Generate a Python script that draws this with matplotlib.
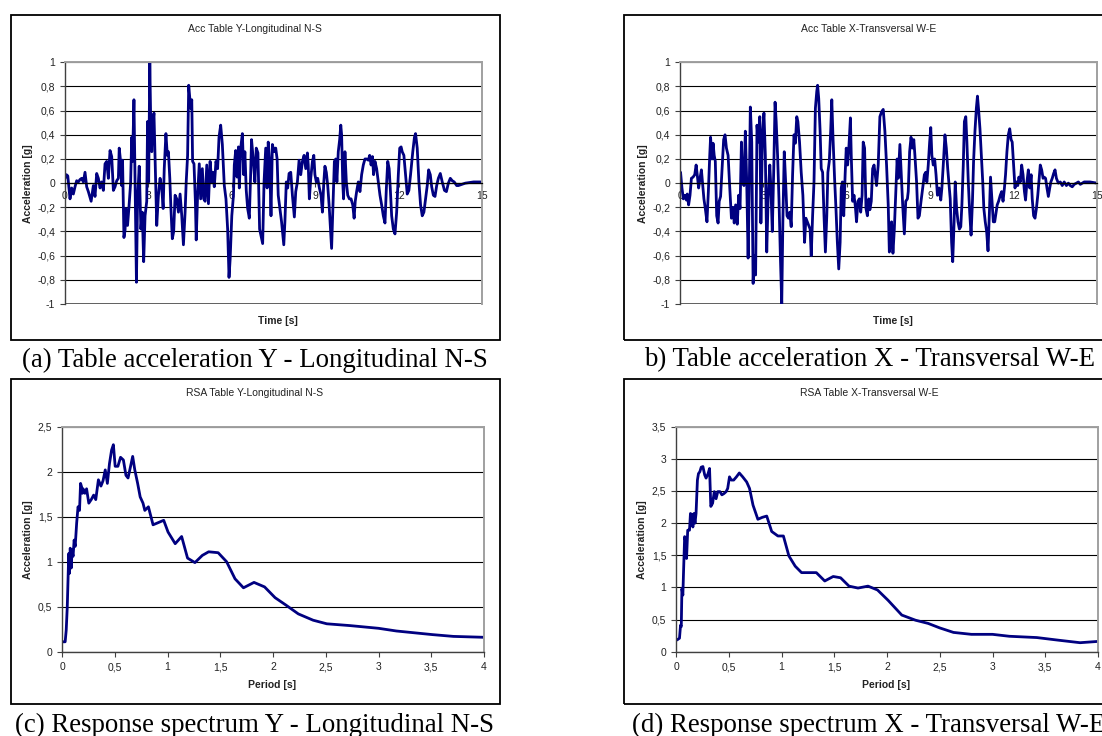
import matplotlib
matplotlib.use("Agg")
import matplotlib.pyplot as plt
from matplotlib.patches import Rectangle
from matplotlib.ticker import FuncFormatter, MultipleLocator

W, H = 1102, 736

# Table acceleration records, (time [s], acceleration [g])
acc_y_rec = [
    (0.00, 0.04), (0.05, 0.07), (0.10, 0.06), (0.18, -0.13), (0.24, -0.04), (0.30, -0.09),
    (0.36, -0.03), (0.42, 0.02), (0.48, 0.01), (0.54, 0.03), (0.60, 0.04), (0.66, 0.01),
    (0.72, 0.09), (0.78, -0.03), (0.84, -0.07), (0.94, -0.15), (1.02, -0.02), (1.08, -0.11),
    (1.14, 0.08), (1.20, 0.04), (1.26, -0.04), (1.32, 0.01), (1.38, -0.06), (1.44, 0.16),
    (1.50, 0.18), (1.56, 0.04), (1.62, 0.27), (1.68, 0.22), (1.74, -0.06), (1.80, -0.03),
    (1.86, 0.02), (1.92, 0.04), (1.95, 0.29), (2.00, 0.18), (2.04, -0.02), (2.07, 0.19),
    (2.12, -0.45), (2.16, -0.39), (2.19, -0.21), (2.25, -0.35), (2.30, -0.20), (2.36, 0.00),
    (2.40, 0.38), (2.43, 0.18), (2.48, 0.69), (2.52, 0.01), (2.57, -0.82), (2.61, -0.13),
    (2.67, 0.14), (2.73, -0.38), (2.78, -0.24), (2.83, -0.65), (2.88, -0.27), (2.94, -0.15),
    (2.97, 0.51), (3.01, 0.01), (3.05, 1.00), (3.08, 0.56), (3.12, 0.26), (3.15, 0.47),
    (3.20, 0.58), (3.24, 0.20), (3.30, -0.35), (3.36, -0.10), (3.42, 0.04), (3.48, -0.04),
    (3.53, -0.21), (3.57, 0.12), (3.63, 0.41), (3.68, 0.23), (3.72, 0.26), (3.77, 0.04),
    (3.81, -0.21), (3.86, -0.46), (3.91, -0.40), (3.96, -0.10), (4.02, -0.13), (4.08, -0.24),
    (4.14, -0.09), (4.20, -0.27), (4.26, -0.51), (4.32, -0.24), (4.36, 0.01), (4.41, 0.23),
    (4.45, 0.81), (4.48, 0.73), (4.52, 0.62), (4.56, 0.69), (4.59, 0.18), (4.64, 0.16),
    (4.69, -0.15), (4.72, -0.47), (4.77, -0.10), (4.83, 0.16), (4.88, -0.13), (4.94, 0.12),
    (4.99, -0.13), (5.04, -0.15), (5.10, 0.15), (5.16, -0.17), (5.22, 0.18), (5.28, 0.01),
    (5.32, 0.09), (5.37, -0.03), (5.43, 0.18), (5.49, 0.12), (5.54, 0.38), (5.60, 0.48),
    (5.66, 0.32), (5.73, -0.02), (5.79, -0.13), (5.85, -0.38), (5.90, -0.78), (5.94, -0.63),
    (6.00, -0.27), (6.06, -0.10), (6.09, 0.15), (6.14, 0.27), (6.19, 0.05), (6.24, 0.30),
    (6.27, -0.04), (6.32, 0.29), (6.38, 0.41), (6.43, 0.07), (6.47, 0.26), (6.52, -0.06),
    (6.57, -0.21), (6.63, -0.29), (6.68, 0.09), (6.71, 0.36), (6.77, 0.20), (6.83, 0.01),
    (6.88, 0.29), (6.94, 0.25), (7.00, -0.38), (7.11, -0.50), (7.16, 0.01), (7.22, 0.29),
    (7.27, -0.04), (7.31, 0.34), (7.36, 0.18), (7.41, -0.27), (7.46, 0.32), (7.52, 0.26),
    (7.58, 0.29), (7.63, 0.20), (7.67, -0.10), (7.73, -0.21), (7.79, -0.32), (7.87, -0.51),
    (7.91, -0.32), (7.96, 0.01), (8.01, -0.04), (8.06, 0.08), (8.12, 0.09), (8.18, -0.10),
    (8.25, -0.28), (8.30, -0.07), (8.36, 0.01), (8.42, 0.19), (8.48, 0.07), (8.54, 0.18),
    (8.60, 0.23), (8.66, 0.12), (8.72, 0.25), (8.75, 0.15), (8.79, -0.13), (8.84, 0.04),
    (8.90, 0.18), (8.95, 0.23), (8.99, 0.07), (9.04, 0.01), (9.09, 0.04), (9.15, -0.04),
    (9.21, -0.10), (9.26, -0.24), (9.31, 0.01), (9.35, 0.14), (9.40, 0.09), (9.45, -0.02),
    (9.50, -0.18), (9.55, -0.38), (9.59, -0.54), (9.64, -0.18), (9.69, 0.18), (9.74, 0.20),
    (9.78, 0.01), (9.83, 0.26), (9.88, 0.36), (9.92, 0.48), (9.95, 0.40), (9.99, 0.01),
    (10.02, -0.13), (10.07, 0.26), (10.12, 0.01), (10.17, -0.10), (10.23, -0.13), (10.29, -0.13),
    (10.35, -0.18), (10.40, -0.29), (10.44, -0.15), (10.49, -0.07), (10.55, 0.01), (10.61, -0.07),
    (10.67, 0.07), (10.73, 0.15), (10.79, 0.20), (10.85, 0.20), (10.91, 0.19), (10.96, 0.23),
    (11.01, 0.15), (11.06, 0.22), (11.10, 0.07), (11.15, 0.18), (11.21, 0.12), (11.27, 0.01),
    (11.33, -0.10), (11.39, -0.18), (11.45, -0.27), (11.51, -0.33), (11.56, -0.04), (11.61, 0.18),
    (11.66, 0.12), (11.70, -0.04), (11.75, -0.27), (11.81, -0.38), (11.87, -0.42), (11.93, -0.24),
    (11.99, 0.07), (12.04, 0.29), (12.09, 0.30), (12.13, 0.26), (12.19, 0.23), (12.25, 0.07),
    (12.31, -0.09), (12.37, -0.06), (12.43, 0.07), (12.51, 0.26), (12.57, 0.38), (12.61, 0.41),
    (12.67, 0.29), (12.73, 0.01), (12.79, -0.18), (12.85, -0.27), (12.91, -0.24), (12.97, -0.13),
    (13.03, -0.02), (13.08, 0.11), (13.14, 0.07), (13.19, -0.03), (13.25, -0.10), (13.31, -0.11),
    (13.37, -0.02), (13.43, 0.04), (13.50, 0.08), (13.57, 0.01), (13.65, -0.06), (13.72, -0.07),
    (13.79, 0.00), (13.86, 0.04), (13.93, 0.02), (14.00, 0.01), (14.09, -0.02), (14.15, -0.02),
    (14.40, 0.00), (14.70, 0.01), (15.00, 0.01),
]

acc_x_rec = [
    (0.00, 0.01), (0.02, 0.09), (0.07, -0.04), (0.12, -0.13), (0.17, -0.10), (0.23, -0.14),
    (0.26, -0.09), (0.31, -0.18), (0.36, -0.10), (0.41, 0.04), (0.47, 0.05), (0.53, 0.07),
    (0.58, 0.15), (0.62, 0.07), (0.67, -0.04), (0.72, 0.04), (0.77, 0.11), (0.82, -0.02),
    (0.86, -0.13), (0.91, -0.21), (0.97, -0.32), (1.02, -0.07), (1.07, 0.23), (1.10, 0.38),
    (1.15, 0.20), (1.19, 0.33), (1.23, 0.23), (1.27, 0.18), (1.32, -0.27), (1.37, -0.33),
    (1.41, -0.15), (1.46, -0.11), (1.52, 0.15), (1.57, 0.36), (1.62, 0.40), (1.67, 0.29),
    (1.73, 0.23), (1.79, -0.04), (1.85, -0.29), (1.91, -0.20), (1.95, -0.33), (2.00, -0.18),
    (2.06, -0.34), (2.11, -0.10), (2.16, -0.21), (2.21, 0.34), (2.25, 0.01), (2.30, -0.02),
    (2.35, 0.43), (2.40, 0.01), (2.45, -0.62), (2.49, -0.07), (2.53, 0.63), (2.58, 0.34),
    (2.63, -0.83), (2.67, -0.60), (2.72, -0.76), (2.77, 0.48), (2.82, 0.34), (2.87, 0.55),
    (2.91, -0.33), (2.97, 0.43), (3.02, 0.58), (3.07, 0.23), (3.12, -0.57), (3.17, -0.13),
    (3.23, 0.15), (3.27, -0.04), (3.32, -0.40), (3.37, 0.09), (3.42, 0.67), (3.46, 0.51),
    (3.51, 0.23), (3.56, -0.13), (3.61, -0.60), (3.66, -1.00), (3.70, -0.32), (3.75, 0.26),
    (3.80, 0.01), (3.85, -0.27), (3.90, -0.29), (3.95, -0.24), (4.00, -0.36), (4.05, 0.07),
    (4.10, 0.40), (4.15, 0.33), (4.20, 0.55), (4.24, 0.51), (4.30, 0.34), (4.36, 0.09),
    (4.42, -0.10), (4.48, -0.49), (4.53, -0.29), (4.58, -0.32), (4.63, -0.35), (4.68, -0.38),
    (4.72, -0.60), (4.77, -0.27), (4.82, 0.01), (4.87, 0.62), (4.92, 0.76), (4.95, 0.81),
    (4.99, 0.70), (5.04, 0.43), (5.08, 0.12), (5.13, 0.09), (5.18, -0.27), (5.23, -0.57),
    (5.28, -0.27), (5.32, 0.09), (5.37, 0.18), (5.42, 0.43), (5.46, 0.69), (5.50, 0.40),
    (5.56, 0.04), (5.61, -0.21), (5.66, -0.49), (5.71, -0.71), (5.76, -0.49), (5.80, -0.04),
    (5.84, 0.01), (5.89, -0.27), (5.94, 0.07), (5.98, 0.29), (6.03, 0.15), (6.08, 0.32),
    (6.13, 0.54), (6.16, 0.23), (6.21, -0.15), (6.26, -0.10), (6.31, -0.20), (6.35, -0.32),
    (6.40, -0.15), (6.45, -0.13), (6.50, -0.24), (6.55, -0.10), (6.59, 0.34), (6.64, 0.29),
    (6.69, -0.21), (6.74, -0.27), (6.79, -0.13), (6.83, -0.22), (6.88, -0.15), (6.93, 0.12),
    (6.98, 0.15), (7.07, -0.02), (7.13, 0.15), (7.19, 0.55), (7.25, 0.59), (7.31, 0.61),
    (7.37, 0.43), (7.43, 0.15), (7.49, -0.18), (7.53, -0.57), (7.58, -0.49), (7.61, -0.32),
    (7.66, -0.58), (7.71, -0.38), (7.76, -0.10), (7.81, 0.20), (7.85, 0.04), (7.91, 0.32),
    (7.96, 0.07), (8.01, -0.18), (8.07, -0.42), (8.12, -0.15), (8.18, -0.13), (8.21, -0.07),
    (8.26, 0.26), (8.31, 0.38), (8.36, 0.29), (8.41, 0.36), (8.45, 0.23), (8.51, 0.01),
    (8.56, -0.29), (8.61, -0.27), (8.67, -0.15), (8.73, -0.04), (8.79, 0.07), (8.84, 0.09),
    (8.88, 0.01), (8.93, 0.15), (8.98, 0.34), (9.02, 0.46), (9.06, 0.23), (9.11, 0.15),
    (9.16, 0.20), (9.21, 0.07), (9.26, -0.10), (9.32, -0.04), (9.38, -0.14), (9.42, -0.04),
    (9.47, 0.15), (9.53, 0.40), (9.58, 0.29), (9.63, 0.12), (9.68, -0.02), (9.72, -0.13),
    (9.77, -0.49), (9.81, -0.65), (9.86, -0.32), (9.90, 0.01), (9.95, -0.21), (10.00, -0.32),
    (10.05, -0.38), (10.10, -0.36), (10.14, -0.18), (10.19, 0.15), (10.23, 0.51), (10.28, 0.55),
    (10.32, 0.34), (10.37, 0.01), (10.42, -0.24), (10.47, -0.43), (10.52, -0.15), (10.56, 0.18),
    (10.61, 0.43), (10.66, 0.62), (10.70, 0.72), (10.74, 0.61), (10.79, 0.45), (10.84, 0.23),
    (10.89, 0.01), (10.93, -0.21), (10.98, -0.32), (11.03, -0.40), (11.08, -0.56), (11.13, -0.24),
    (11.17, 0.05), (11.22, -0.13), (11.27, -0.32), (11.32, -0.32), (11.37, -0.24), (11.41, -0.18),
    (11.46, -0.15), (11.52, -0.10), (11.57, -0.07), (11.62, -0.15), (11.67, -0.04), (11.71, 0.07),
    (11.76, 0.26), (11.81, 0.40), (11.86, 0.45), (11.91, 0.36), (11.95, 0.34), (12.00, 0.15),
    (12.05, -0.04), (12.10, 0.01), (12.15, -0.02), (12.19, 0.05), (12.24, 0.01), (12.29, 0.15),
    (12.34, 0.07), (12.39, -0.07), (12.43, -0.14), (12.48, 0.01), (12.53, 0.11), (12.58, -0.04),
    (12.63, 0.07), (12.67, -0.13), (12.72, -0.27), (12.77, -0.29), (12.82, -0.21), (12.87, -0.10),
    (12.91, 0.01), (12.96, 0.15), (13.01, 0.11), (13.06, 0.04), (13.10, 0.05), (13.15, 0.04),
    (13.20, -0.04), (13.25, -0.11), (13.30, -0.04), (13.34, 0.01), (13.39, 0.04), (13.44, 0.08),
    (13.49, 0.11), (13.54, 0.04), (13.61, 0.00), (13.68, 0.01), (13.75, -0.02), (13.82, 0.01),
    (13.90, -0.02), (13.97, 0.00), (14.04, -0.02), (14.11, -0.03), (14.18, -0.01), (14.26, 0.00),
    (14.33, 0.01), (14.40, -0.01), (14.47, 0.00), (14.54, 0.01), (14.64, 0.01), (14.75, 0.01),
    (15.00, 0.00),
]

# Response spectra, (period [s], spectral acceleration [g])
rsa_y_rec = [
    (0.01, 0.11), (0.03, 0.11), (0.04, 0.24), (0.05, 0.50), (0.064, 1.09), (0.07, 0.87),
    (0.078, 1.15), (0.088, 0.93), (0.095, 1.13), (0.105, 1.06), (0.115, 1.24), (0.125, 1.17),
    (0.139, 1.43), (0.152, 1.61), (0.166, 1.57), (0.176, 1.87), (0.186, 1.83), (0.193, 1.76),
    (0.20, 1.81), (0.217, 1.76), (0.233, 1.81), (0.254, 1.65), (0.277, 1.69), (0.30, 1.74),
    (0.32, 1.69), (0.345, 1.91), (0.369, 1.84), (0.389, 1.90), (0.41, 2.02), (0.43, 1.87),
    (0.45, 2.09), (0.47, 2.24), (0.487, 2.30), (0.504, 2.06), (0.53, 2.06), (0.555, 2.16),
    (0.582, 2.13), (0.606, 1.96), (0.626, 1.93), (0.65, 2.06), (0.67, 2.17), (0.69, 2.02),
    (0.717, 1.87), (0.741, 1.72), (0.768, 1.65), (0.785, 1.57), (0.819, 1.61), (0.863, 1.41),
    (0.904, 1.43), (0.964, 1.46), (1.005, 1.33), (1.073, 1.20), (1.134, 1.28), (1.19, 1.04),
    (1.26, 0.99), (1.33, 1.07), (1.39, 1.11), (1.48, 1.10), (1.56, 1.00), (1.64, 0.81),
    (1.72, 0.71), (1.82, 0.77), (1.92, 0.72), (2.02, 0.60), (2.12, 0.52), (2.24, 0.42),
    (2.38, 0.35), (2.51, 0.31), (2.73, 0.29), (3.00, 0.26), (3.17, 0.23), (3.34, 0.21),
    (3.51, 0.19), (3.71, 0.17), (4.00, 0.16),
]

rsa_x_rec = [
    (0.016, 0.19), (0.033, 0.21), (0.043, 0.41), (0.05, 0.39), (0.056, 0.98), (0.065, 0.88),
    (0.072, 1.27), (0.082, 1.79), (0.092, 1.71), (0.10, 1.45), (0.111, 1.89), (0.128, 1.89),
    (0.137, 2.15), (0.15, 2.13), (0.16, 1.94), (0.17, 2.15), (0.18, 2.00), (0.19, 2.15),
    (0.203, 2.67), (0.213, 2.77), (0.226, 2.80), (0.239, 2.87), (0.255, 2.88), (0.272, 2.75),
    (0.285, 2.70), (0.304, 2.77), (0.318, 2.85), (0.33, 2.26), (0.347, 2.31), (0.363, 2.49),
    (0.38, 2.38), (0.396, 2.49), (0.416, 2.49), (0.435, 2.44), (0.455, 2.46), (0.475, 2.49),
    (0.49, 2.54), (0.507, 2.72), (0.524, 2.67), (0.547, 2.67), (0.573, 2.72), (0.60, 2.78),
    (0.632, 2.72), (0.67, 2.64), (0.697, 2.54), (0.73, 2.28), (0.776, 2.06), (0.818, 2.09),
    (0.86, 2.11), (0.907, 1.87), (0.966, 1.80), (1.018, 1.80), (1.07, 1.49), (1.13, 1.33),
    (1.19, 1.23), (1.26, 1.23), (1.33, 1.23), (1.41, 1.10), (1.49, 1.17), (1.56, 1.15),
    (1.64, 1.02), (1.725, 0.99), (1.82, 1.02), (1.91, 0.96), (2.01, 0.80), (2.14, 0.57),
    (2.27, 0.49), (2.39, 0.44), (2.50, 0.37), (2.63, 0.30), (2.80, 0.27), (3.00, 0.27),
    (3.16, 0.24), (3.42, 0.22), (3.62, 0.18), (3.83, 0.14), (4.00, 0.16),
]

acc_titles = ["Acc Table Y-Longitudinal N-S", "Acc Table X-Transversal W-E"]
rsa_titles = ["RSA Table Y-Longitudinal N-S", "RSA Table X-Transversal W-E"]
captions = [
    "(a) Table acceleration Y - Longitudinal N-S",
    "b) Table acceleration X - Transversal W-E",
    "(c) Response spectrum Y - Longitudinal N-S",
    "(d) Response spectrum X - Transversal W-E",
]

LINE = "#000080"
TXT = "#222222"
SANS = "Liberation Sans"
SERIF = "Liberation Serif"

fig = plt.figure(figsize=(W / 100, H / 100), dpi=100)
fig.patch.set_facecolor("white")


def fx(px):
    return px / W


def fy(py):
    return 1 - py / H


def comma(v, pos=None):
    v = round(v, 6)
    if v == 0:
        v = 0.0
    return f"{v:g}".replace(".", ",")


def panel_box(x0, y0, x1, y1):
    fig.patches.append(Rectangle((fx(x0), fy(y1)), fx(x1 - x0), (y1 - y0) / H,
                                 transform=fig.transFigure, fill=False,
                                 edgecolor="black", linewidth=1.3, zorder=0))


def make_axes(x0, y0, x1, y1):
    ax = fig.add_axes([fx(x0), fy(y1), fx(x1 - x0), (y1 - y0) / H])
    ax.grid(axis="y", color="black", linewidth=0.8)
    ax.set_axisbelow(True)
    for s in ("top", "right"):
        ax.spines[s].set_color("#a0a0a0")
        ax.spines[s].set_linewidth(1.4)
    ax.spines["left"].set_color("#404040")
    ax.spines["left"].set_linewidth(1.0)
    ax.tick_params(labelsize=7.5, colors="#404040", labelcolor=TXT, length=3.5, width=0.8)
    ax.yaxis.set_major_formatter(FuncFormatter(comma))
    ax.xaxis.set_major_formatter(FuncFormatter(comma))
    return ax


def style_fonts(ax):
    for lab in ax.get_xticklabels() + ax.get_yticklabels():
        lab.set_family(SANS)


def label(x, y, text, **kw):
    fig.text(fx(x), fy(y), text, ha="center", va="center", fontsize=7.5,
             family=SANS, color=TXT, **kw)


# --- acceleration time histories ---
acc_boxes = [(11, 14.7, 500, 340), (624, 14.7, 1130, 340)]
acc_areas = [(65, 62.3, 482, 304), (680, 62.3, 1097, 304)]
acc_title_x = [255, 869]
for rec, title, box, area, tx in zip([acc_y_rec, acc_x_rec], acc_titles, acc_boxes,
                                     acc_areas, acc_title_x):
    panel_box(*box)
    ax = make_axes(*area)
    t, a = zip(*rec)
    ax.plot(t, a, color=LINE, linewidth=2.0, solid_joinstyle="round")
    ax.set_xlim(0, 15)
    ax.set_ylim(-1, 1)
    ax.yaxis.set_major_locator(MultipleLocator(0.2))
    ax.xaxis.set_major_locator(MultipleLocator(3))
    ax.spines["bottom"].set_position(("data", 0))
    ax.spines["bottom"].set_color("black")
    ax.spines["bottom"].set_linewidth(0.9)
    ax.axhline(-1, color="#606060", linewidth=1.4, zorder=1)
    ax.tick_params(axis="x", pad=2.5, length=3)
    style_fonts(ax)
    cx = (area[0] + area[2]) / 2
    label(tx, 29, title)
    label(cx + 4, 321.5, "Time [s]", weight="bold")
    label(area[0] - 37, (area[1] + area[3]) / 2, "Acceleration [g]", rotation=90, weight="bold")

# --- response spectra ---
rsa_boxes = [(11, 379, 500, 704), (624, 379, 1130, 704)]
rsa_areas = [(62, 426.7, 484, 651.7), (676, 426.7, 1098, 651.7)]
rsa_ymax = [2.5, 3.5]
rsa_title_x = [255, 869]
for rec, title, box, area, ymax, tx in zip([rsa_y_rec, rsa_x_rec], rsa_titles, rsa_boxes,
                                           rsa_areas, rsa_ymax, rsa_title_x):
    panel_box(*box)
    ax = make_axes(*area)
    p, s = zip(*rec)
    ax.plot(p, s, color=LINE, linewidth=2.0, solid_joinstyle="round")
    ax.set_xlim(0, 4)
    ax.set_ylim(0, ymax)
    ax.yaxis.set_major_locator(MultipleLocator(0.5))
    ax.xaxis.set_major_locator(MultipleLocator(0.5))
    ax.spines["bottom"].set_color("#404040")
    ax.spines["bottom"].set_linewidth(1.0)
    ax.tick_params(axis="x", pad=4)
    style_fonts(ax)
    cx = (area[0] + area[2]) / 2
    label(tx, 393, title)
    label(cx - 1, 685, "Period [s]", weight="bold")
    label(area[0] - 34, (area[1] + area[3]) / 2, "Acceleration [g]", rotation=90, weight="bold")

# --- captions under each chart ---
cap_pos = [(255, 360), (870, 360), (255, 725), (869, 725)]
for text, (cx, cy) in zip(captions, cap_pos):
    fig.text(fx(cx), fy(cy), text, ha="center", va="center", fontsize=19.4, family=SERIF,
             color="black")

fig.savefig("out.png", dpi=100, facecolor="white")
